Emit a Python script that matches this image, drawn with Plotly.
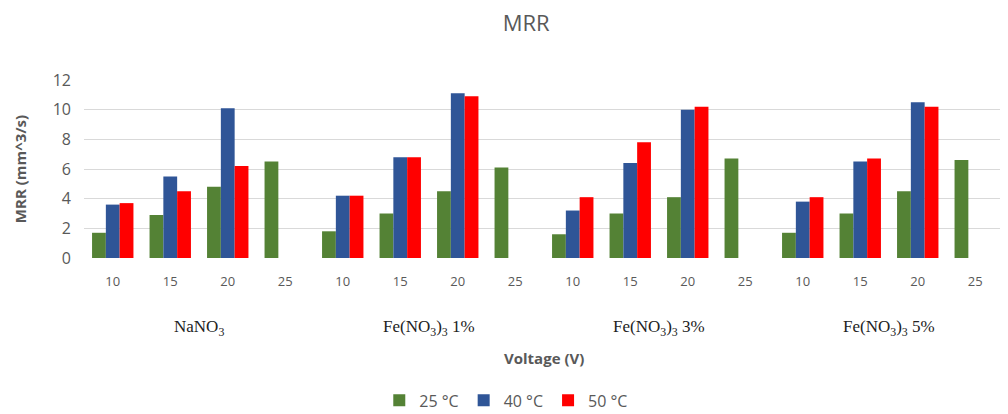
import plotly.graph_objects as go

groups = ["NaNO<sub>3</sub>", "Fe(NO<sub>3</sub>)<sub>3</sub> 1%",
          "Fe(NO<sub>3</sub>)<sub>3</sub> 3%", "Fe(NO<sub>3</sub>)<sub>3</sub> 5%"]
voltages = ["10", "15", "20", "25"]

t25 = [1.7, 2.9, 4.8, 6.5,
       1.8, 3.0, 4.5, 6.1,
       1.6, 3.0, 4.1, 6.7,
       1.7, 3.0, 4.5, 6.6]
t40 = [3.6, 5.5, 10.1, None,
       4.2, 6.8, 11.1, None,
       3.2, 6.4, 10.0, None,
       3.8, 6.5, 10.5, None]
t50 = [3.7, 4.5, 6.2, None,
       4.2, 6.8, 10.9, None,
       4.1, 7.8, 10.2, None,
       4.1, 6.7, 10.2, None]

series = [("25 °C", t25, "#548235"), ("40 °C", t40, "#2F5597"), ("50 °C", t50, "#FF0000")]

xpos = list(range(len(groups) * len(voltages)))
ticktext = voltages * len(groups)

fig = go.Figure()
for name, vals, col in series:
    fig.add_trace(go.Bar(x=xpos, y=vals, name=name, marker=dict(color=col, line=dict(width=0))))

grey = "#595959"
fig.update_layout(
    width=1008, height=414,
    margin=dict(l=76, r=12, t=72, b=164, autoexpand=False),
    paper_bgcolor="white", plot_bgcolor="white",
    barmode="group", bargap=0.28, bargroupgap=0,
    title=dict(text="MRR", x=0.514, xanchor="center", y=0.962, yanchor="middle",
               font=dict(family="Open Sans", size=22, color=grey)),
    font=dict(family="Open Sans", color=grey),
    xaxis=dict(tickvals=xpos, ticktext=ticktext, range=[-0.5, len(xpos) - 0.5],
               showgrid=False, zeroline=False, showline=False, ticks="",
               tickfont=dict(size=13, color=grey), ticklabelstandoff=14),
    yaxis=dict(range=[0, 12], dtick=2, showgrid=True, gridcolor="#d9d9d9", gridwidth=1,
               zeroline=False, showline=False, ticks="",
               tickfont=dict(size=16, color=grey), ticklabelstandoff=12,
               title=dict(text="<b>MRR (mm^3/s)</b>", font=dict(size=15, color=grey), standoff=22)),
    legend=dict(orientation="h", x=0.459, xanchor="center", y=-0.80, yanchor="middle",
                font=dict(size=16, color=grey), itemwidth=30, traceorder="normal"),
    showlegend=True,
)

for i, g in enumerate(groups):
    fig.add_annotation(x=i * len(voltages) + 1.5, xref="x", y=-0.395, yref="paper",
                       text=g, showarrow=False, yanchor="middle",
                       font=dict(family="Liberation Serif", size=17, color="#222222"))

fig.add_annotation(x=0.5, xref="paper", y=-0.56, yref="paper", text="<b>Voltage (V)</b>",
                   showarrow=False, yanchor="middle", font=dict(size=15, color=grey))

fig.write_html("out.html")
